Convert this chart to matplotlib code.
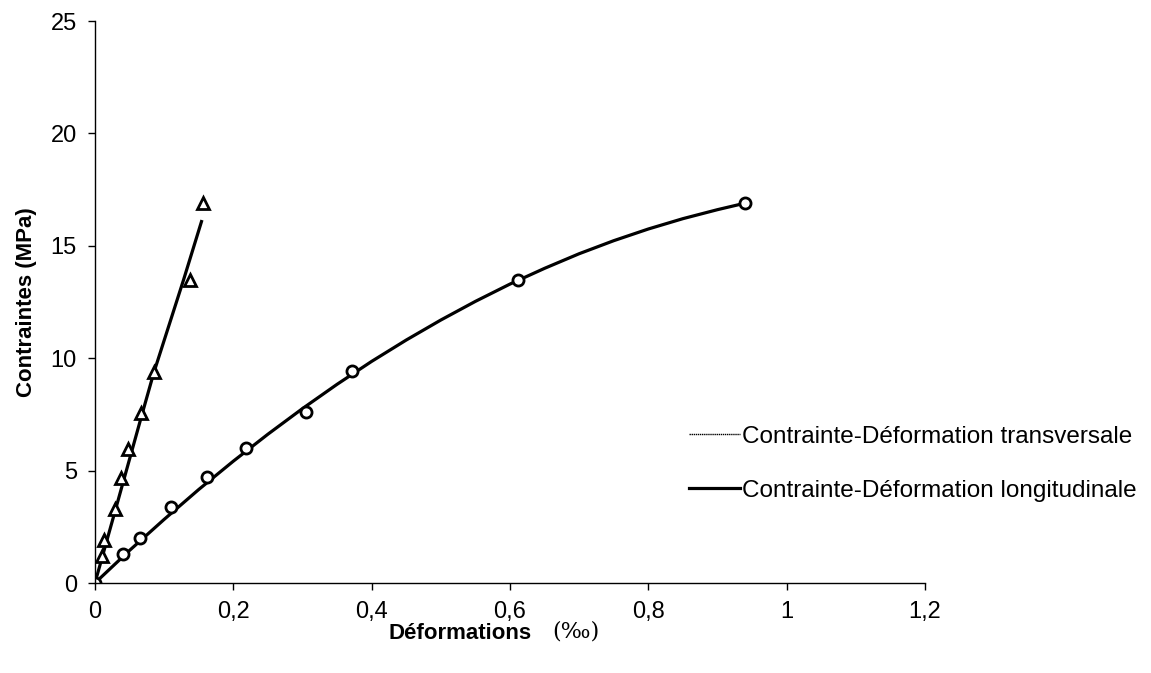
import numpy as np
import matplotlib
matplotlib.use('Agg')
import matplotlib.pyplot as plt
from matplotlib.ticker import FuncFormatter

plt.rcParams['font.family'] = ['Liberation Sans', 'DejaVu Sans']

# ---------------------------------------------------------------------------
# Data
# ---------------------------------------------------------------------------
# transverse strain (triangles)
trans_strain = [0.0, 0.010, 0.013, 0.029, 0.037, 0.048, 0.067, 0.085, 0.138, 0.156]
trans_stress = [0.0, 1.22, 1.93, 3.30, 4.65, 5.95, 7.55, 9.38, 13.48, 16.90]
# transverse trend line
trans_fit_x = [0.0, 0.030, 0.068, 0.085, 0.128, 0.154]
trans_fit_y = [0.0, 3.30, 7.50, 9.35, 13.48, 16.08]

# longitudinal strain (circles)
long_strain = [0.0, 0.040, 0.065, 0.110, 0.162, 0.218, 0.305, 0.371, 0.612, 0.940]
long_stress = [0.0, 1.30, 1.99, 3.37, 4.73, 5.99, 7.62, 9.43, 13.48, 16.92]
# longitudinal trend curve
long_fit_x = [0.0, 0.05, 0.10, 0.15, 0.20, 0.25, 0.30, 0.35, 0.40, 0.45, 0.50, 0.55,
              0.60, 0.65, 0.70, 0.75, 0.80, 0.85, 0.90, 0.94]
long_fit_y = [0.0, 1.45, 2.83, 4.16, 5.42, 6.62, 7.76, 8.84, 9.86, 10.81, 11.70, 12.53,
              13.30, 14.00, 14.65, 15.23, 15.75, 16.21, 16.61, 16.90]

x_ticks = [0, 0.2, 0.4, 0.6, 0.8, 1.0, 1.2]
y_ticks = [0, 5, 10, 15, 20, 25]

label_trans = 'Contrainte-Déformation transversale'
label_long = 'Contrainte-Déformation longitudinale'

fig = plt.figure(figsize=(11.51, 6.73), dpi=100)
ax = fig.add_axes([0.0825, 0.1337, 0.7212, 0.8350])

# trend lines
ax.plot(trans_fit_x, trans_fit_y, color='black', linewidth=2.3, label=label_trans)
ax.plot(long_fit_x, long_fit_y, color='black', linewidth=2.3, label=label_long)

# measured points
ax.plot(trans_strain, trans_stress, linestyle='none', marker='^', markersize=8,
        markerfacecolor='white', markeredgecolor='black', markeredgewidth=2.0)
ax.plot(long_strain, long_stress, linestyle='none', marker='o', markersize=8,
        markerfacecolor='white', markeredgecolor='black', markeredgewidth=2.0)

ax.set_xlim(0, 1.2)
ax.set_ylim(0, 25)
ax.set_xticks(x_ticks)
ax.set_yticks(y_ticks)
ax.xaxis.set_major_formatter(FuncFormatter(lambda v, p: ('%g' % v).replace('.', ',')))
ax.tick_params(axis='both', labelsize=17, direction='out', length=5, width=1,
               color='black', pad=8)
for side in ['top', 'right']:
    ax.spines[side].set_visible(False)
for side in ['left', 'bottom']:
    ax.spines[side].set_linewidth(1.0)

ax.set_ylabel('Contraintes (MPa)', fontsize=16, fontweight='bold', labelpad=10)
fig.text(0.400, 0.059, 'Déformations', fontsize=16, fontweight='bold',
         ha='center', va='center')
fig.text(0.500, 0.062, '(‰)', fontsize=16, family='DejaVu Serif',
         ha='center', va='center')

# legend without markers
handles = [plt.Line2D([], [], color='black', linewidth=1.0, linestyle=(0, (1, 0.5))),
           plt.Line2D([], [], color='black', linewidth=2.3)]
fig.legend(handles, [label_trans, label_long], loc='center left',
           bbox_to_anchor=(0.580, 0.311), frameon=False, fontsize=17.5,
           handlelength=2.1, handletextpad=0.05, labelspacing=1.3)

fig.savefig('out.png', dpi=100)
